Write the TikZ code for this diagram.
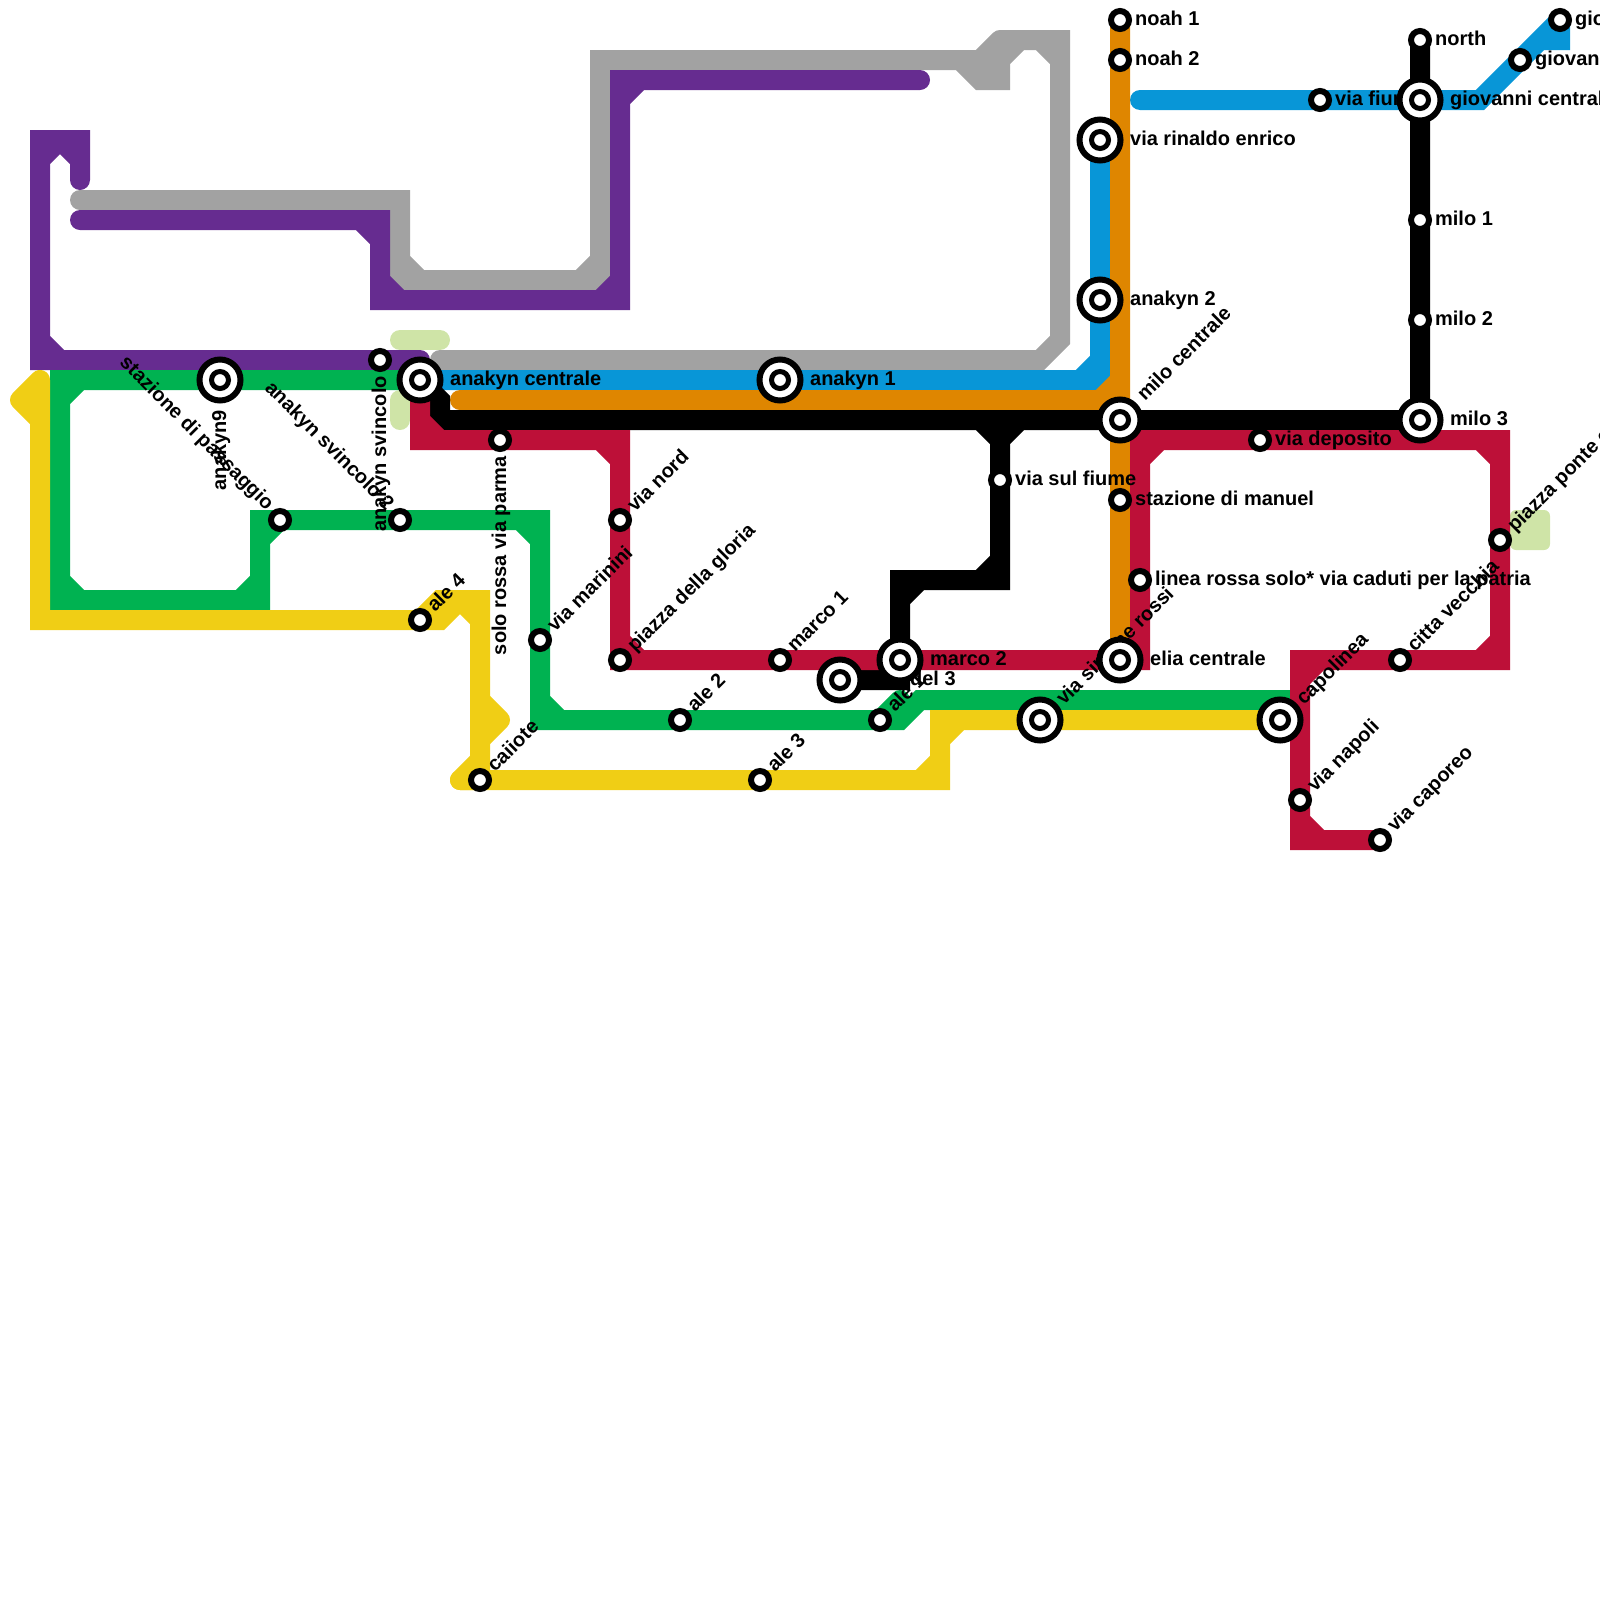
\documentclass[tikz,border=0pt]{standalone}
\usepackage{fontspec}
\setmainfont{Liberation Sans}
\definecolor{lnpurple}{HTML}{662C90}
\definecolor{lnsilver}{HTML}{A2A2A2}
\definecolor{lngreen}{HTML}{00B251}
\definecolor{lnyellow}{HTML}{F0CE15}
\definecolor{lnblue}{HTML}{0896D7}
\definecolor{lnorange}{HTML}{DF8600}
\definecolor{lnred}{HTML}{BD1038}
\definecolor{lnlime}{HTML}{CFE4A7}
\begin{document}
\begin{tikzpicture}[x=1cm,y=-1cm,mline/.style={line width=1cm,line cap=round,line join=miter},
stn/.style={circle,draw=black,fill=white,inner sep=0pt,line width=.3cm,minimum size=.9cm},
hub/.style={stn,line width=.3cm,minimum size=2.05cm},
hubin/.style={stn,line width=.25cm,minimum size=.85cm},
lab/.style={inner sep=0pt,font=\fontsize{28.45}{34}\selectfont\bfseries}]
\useasboundingbox (0,0) rectangle (80,80);
\foreach \n/\x/\y in {ana9/11/19,anac/21/19,ana1/39/19,rina/55/7,ana2/55/15,miloc/56/21,gioc/71/5,milo3/71/21,del3/42/34,marco2/45/33,elia/56/33,simone/52/36,capo/64/36,anas1/19/18,pass/14/26,anas2/20/26,ale4/21/31,parma/25/22,marin/27/32,vnord/31/26,gloria/31/33,ale2/34/36,ale3/38/39,cai/24/39,marco1/39/33,ale1/44/36,fiume/50/24,noah1/56/1,noah2/56/3,manuel/56/25,rossa/57/29,depo/63/22,vfiume/66/5,north/71/2,milo1/71/11,milo2/71/16,gio2/76/3,gio1/78/1,ponte/75/27,citta/70/33,napoli/65/40,capor/69/42} {\coordinate (\n) at (\x,\y);}
% lime bits
\draw[mline,lnlime] (20,17) -- (22,17) (20,20) -- (20,21);
\fill[lnlime,rounded corners=.3cm] (75.5,25.5) rectangle (77.5,27.5);
% lines
\draw[mline,lnsilver] (4,10) -| (20,14) -| (30,3) -- (48,3) -- (49,4) -- (50,4) -- (50,2) (50,2) -- (53,2) -- (53,17) -- (52,18) -- (22,18) (48,3) -- (50,3) (49,3) -- (50,2) (20,13) -- (21,14) (29,14) -- (30,13) (50,3) -- (51,2) (52,2) -- (53,3);
\draw[mline,lnpurple] (4,11) -| (19,15) -| (31,4) -- (46,4) (18,11) -- (19,12) (19,14) -- (20,15) (30,15) -- (31,14) (31,5) -- (32,4);
\draw[mline,lnpurple] (4,9) |- (2,7) |- (21,18) (2,8) -- (3,7) (3,7) -- (4,8) (2,17) -- (3,18);
\draw[mline,lngreen] (anac) -| (3,30) -| (13,26) -| (27,36) -- (45,36) -- (46,35) -| (capo) (3,20) -- (4,19) (3,29) -- (4,30) (12,30) -- (13,29) (13,27) -- (14,26) (26,26) -- (27,27) (27,35) -- (28,36) (44,36) -- (45,35);
\draw[mline,lnyellow] (2,21) |- (22,31) -- (23,30) (23,30) -- (24,31) (ale4) -- (22,30) -| (cai) (23,39) -| (47,36) -- (capo) (46,39) -- (47,38) (47,37) -- (48,36);
\draw[mline,lnyellow,line join=round] (2,19) -- (1,20) -- (2,21) -- cycle (24,35) -- (25,36) -- (24,37) (24,38) -- (23,39) -- (24,39);
\draw[mline,lnblue] (anac) -| (rina) (54,19) -- (55,18) (57,5) -- (74,5) -- (gio1) (gio1) -- (78,2) -- (77,2);
\draw[mline,lnorange] (23,20) -- (56,20) (noah1) -- (elia) (55,20) -- (56,19);
\draw[mline,black] (anac) -- (22,20) |- (milo3) (north) -- (milo3) (49,21) -- (50,22) -- (51,21) (50,21) |- (45,29) |- (del3) (49,29) -- (50,28) (45,30) -- (46,29);
\draw[mline,lnred] (anac) |- (31,22) |- (57,33) |- (75,22) |- (65,33) |- (capor) (21,21) -- (22,22) (30,22) -- (31,23) (31,32) -- (32,33) (56,33) -- (57,32) (57,23) -- (58,22) (74,22) -- (75,23) (74,33) -- (75,32) (65,34) -- (66,33) (65,41) -- (66,42);
% labels
\foreach \n/\t in {noah1/noah 1,noah2/noah 2,vfiume/via fiume,milo1/milo 1,milo2/milo 2,north/north,gio2/giovan,gio1/gio,fiume/via sul fiume,manuel/stazione di manuel,rossa/linea rossa solo* via caduti per la patria,depo/via deposito} {\node[lab,anchor=base west,shift={(.75,.28)}] (\n t) at (\n) {\t};}
\foreach \n/\t in {anac/anakyn centrale,ana1/anakyn 1,rina/via rinaldo enrico,ana2/anakyn 2,gioc/giovanni central,milo3/milo 3,marco2/marco 2,elia/elia centrale} {\node[lab,anchor=base west,shift={(1.5,.28)}] (\n t) at (\n) {\t};}
\node[lab,anchor=base west] (del3t) at (45.5,34.28) {del 3};
\foreach \n/\t in {ale4/ale 4,marin/via marinini,vnord/via nord,gloria/piazza della gloria,ale2/ale 2,ale3/ale 3,cai/caiiote,marco1/marco 1,ale1/ale 1,ponte/piazza ponte c,citta/citta vecchia,napoli/via napoli,capor/via caporeo} {\node[lab,anchor=base west,shift={(.75,-.35)},rotate=45] (\n t) at (\n) {\t};}
\foreach \n/\t in {simone/via simone rossi,capo/capolinea} {\node[lab,anchor=base west,shift={(1.2,-.7)},rotate=45] (\n t) at (\n) {\t};}
\node[lab,anchor=base west,shift={(1.25,-.9)},rotate=45] (miloct) at (miloc) {milo centrale};
\foreach \n/\t in {anas1/anakyn svincolo,parma/solo rossa via parma} {\node[lab,anchor=base east,shift={(.3,.8)},rotate=90] (\n t) at (\n) {\t};}
\node[lab,anchor=base east,shift={(.3,1.5)},rotate=90] (ana9t) at (ana9) {anakyn9};
\foreach \n/\t in {pass/stazione di passaggio,anas2/anakyn svincolo 2} {\node[lab,anchor=base east,shift={(-.7,-.45)},rotate=-45] (\n t) at (\n) {\t};}
% stations
\foreach \n in {ana9,anac,ana1,rina,ana2,miloc,gioc,milo3,del3,marco2,elia,simone,capo} {\node[hub] (h\n) at (\n) {}; \node[hubin] (i\n) at (\n) {};}
\foreach \n in {anas1,pass,anas2,ale4,parma,marin,vnord,gloria,ale2,ale3,cai,marco1,ale1,fiume,noah1,noah2,manuel,rossa,depo,vfiume,north,milo1,milo2,gio2,gio1,ponte,citta,napoli,capor} {\node[stn] (s\n) at (\n) {};}
\end{tikzpicture}
\end{document}
